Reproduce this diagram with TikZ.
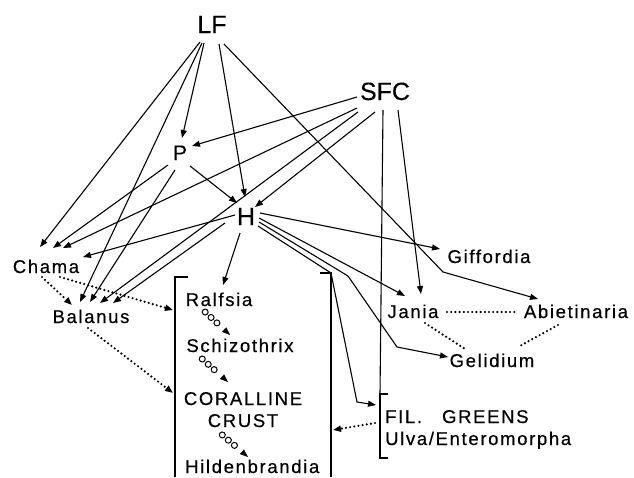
\documentclass[tikz,border=0pt]{standalone}
\usepackage{fontspec}
\setmainfont{Liberation Sans}[FakeBold=0.3]
\newfontfamily\labfont[LetterSpace=9,FakeBold=0.5]{Liberation Sans}
\usetikzlibrary{arrows.meta,decorations.markings}

\begin{document}
\begin{tikzpicture}
	[x=1pt,y=-1pt,
	 big/.style={font=\fontsize{25}{28}\selectfont,inner sep=0pt,anchor=base},
	 lab/.style={font=\labfont\fontsize{18.5}{20}\selectfont,inner sep=0pt,anchor=base},
	 ln/.style={line width=1.1pt},
	 arr/.style={line width=1.1pt,-{Triangle[length=8pt,width=6pt]}},
	 dotline/.style={line width=2.4pt,dash pattern=on 0pt off 4.2pt,line cap=round},
	 dotarr/.style={dotline,-{Triangle[length=8pt,width=6pt]}},
	 circchain/.style={decoration={markings,
	 	mark=between positions 3pt and 19pt step 8pt with {\draw[line width=1pt] (0,0) circle (3pt);},
	 	mark=at position 1 with {\arrow{Triangle[length=8pt,width=6pt]}}},
	 	postaction={decorate}}]
	\useasboundingbox (0,0) rectangle (634,477);
	\node[big] (lf) at (212,33) {LF};
	\node[big] (sfc) at (385,100) {SFC};
	\node[big,font=\fontsize{21}{24}\selectfont] (p) at (180,160) {P};
	\node[big] (h) at (246,225) {H};
	\node[lab] (chama) at (46,273) {Chama};
	\node[lab] (balanus) at (91,323) {Balanus};
	\node[lab] (ralfsia) at (219,306) {Ralfsia};
	\node[lab] (schizo) at (240,352) {Schizothrix};
	\node[lab] (coralline) at (243,405) {CORALLINE};
	\node[lab] (crust) at (243,427) {CRUST};
	\node[lab,anchor=base west] (hilden) at (185,473) {Hildenbrandia};
	\node[lab] (giff) at (489,263) {Giffordia};
	\node[lab] (jania) at (413,318) {Jania};
	\node[lab] (abiet) at (576,318) {Abietinaria};
	\node[lab] (gelid) at (492,367) {Gelidium};
	\node[lab,anchor=base west] (fil) at (385,423) {FIL.\hspace{20pt}GREENS};
	\node[lab,anchor=base west] (ulva) at (385,445) {Ulva/Enteromorpha};
	\coordinate (boxl) at (175,277);
	\coordinate (boxr) at (331,273);
	\coordinate (filtop) at (380,394);
	\coordinate (filbot) at (380,458);
	\coordinate (bendA) at (443,272);
	\coordinate (bendB) at (348,276);
	\coordinate (bendC) at (397,347);
	\coordinate (bendD) at (357,402);

	\draw[ln] ([shift={(13,0)}]boxl) -- (boxl) -- (175,477);
	\draw[ln] ([shift={(-11,0)}]boxr) -- (boxr) -- (331,477);
	\draw[ln] ([shift={(8,0)}]filtop) -- (filtop) -- (filbot) -- ([shift={(8,0)}]filbot);

	\draw[arr] ([shift={(-12,9)}]lf.base) -- ([shift={(-6,-26)}]chama.base);
	\draw[arr] ([shift={(-10,10)}]lf.base) -- ([shift={(-11,-21)}]balanus.base);
	\draw[arr] ([shift={(-8,10)}]lf.base) -- ([shift={(2,-22)}]p.base);
	\draw[arr] ([shift={(7,11)}]lf.base) -- ([shift={(-1,-28)}]h.base);
	\draw[arr] ([shift={(12,11)}]lf.base) -- (bendA) -- ([shift={(-38,-19)}]abiet.base);

	\draw[arr] ([shift={(-28,-3)}]sfc.base) -- ([shift={(12,-14)}]p.base);
	\draw[arr] ([shift={(-28,8)}]sfc.base) -- ([shift={(17,-25)}]chama.base);
	\draw[arr] ([shift={(-27,12)}]sfc.base) -- ([shift={(9,-20)}]balanus.base);
	\draw[arr] ([shift={(-10,12)}]sfc.base) -- ([shift={(9,-18)}]h.base);
	\draw[ln] ([shift={(-2,10)}]sfc.base) -- (filtop);
	\draw[arr] ([shift={(13,10)}]sfc.base) -- ([shift={(8,-24)}]jania.base);

	\draw[arr] ([shift={(-12,5)}]p.base) -- ([shift={(7,-25)}]chama.base);
	\draw[arr] ([shift={(-5,10)}]p.base) -- ([shift={(-1,-21)}]balanus.base);
	\draw[arr] ([shift={(10,6)}]p.base) -- ([shift={(-9,-22)}]h.base);

	\draw[arr] ([shift={(-11,-10)}]h.base) -- ([shift={(37,-16)}]chama.base);
	\draw[arr] ([shift={(-21,-2)}]h.base) -- ([shift={(22,-20)}]balanus.base);
	\draw[arr] ([shift={(-6,8)}]h.base) -- ([shift={(4,-21)}]ralfsia.base);
	\draw[arr] ([shift={(14,-12)}]h.base) -- ([shift={(-49,-14)}]giff.base);
	\draw[arr] ([shift={(13,-7)}]h.base) -- ([shift={(-8,-22)}]jania.base);
	\draw[arr] ([shift={(13,-3)}]h.base) -- (bendB) -- (bendC) -- ([shift={(-44,-10)}]gelid.base);
	\draw[ln] ([shift={(12,1)}]h.base) -- (boxr);
	\draw[arr] (boxr) -- (bendD) -- ([shift={(-4,11)}]filtop);

	\draw[dotarr] ([shift={(-4,4)}]chama.base) -- ([shift={(-19,-18)}]balanus.base);
	\draw[dotarr] ([shift={(14,4)}]chama.base) -- ([shift={(-2,33)}]boxl);
	\draw[dotarr] ([shift={(-3,5)}]balanus.base) -- ([shift={(-2,116)}]boxl);
	\draw[dotarr] ([shift={(-5,29)}]filtop) -- ([shift={(2,157)}]boxr);
	\draw[dotline] ([shift={(34,-6)}]jania.base) -- ([shift={(-58,-6)}]abiet.base);
	\draw[dotline] ([shift={(12,5)}]jania.base) -- ([shift={(-27,-18)}]gelid.base);
	\draw[dotline] ([shift={(-18,7)}]abiet.base) -- ([shift={(26,-20)}]gelid.base);

	\path[circchain] ([shift={(-16,4)}]ralfsia.base) -- ([shift={(-10,-17)}]schizo.base);
	\path[circchain] ([shift={(-40,5)}]schizo.base) -- ([shift={(-15,-23)}]coralline.base);
	\path[circchain] ([shift={(-23,6)}]crust.base) -- ([shift={(63,-16)}]hilden.base west);
\end{tikzpicture}
\end{document}
